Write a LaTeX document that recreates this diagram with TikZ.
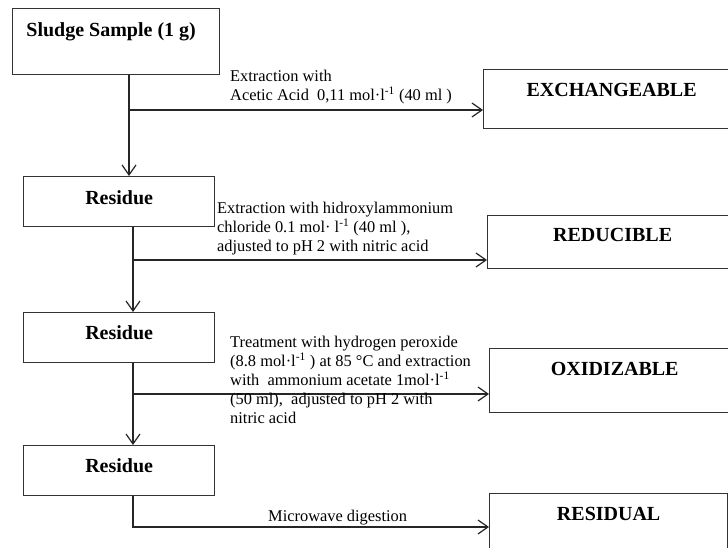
\documentclass[tikz,border=0pt]{standalone}
\usepackage{fontspec}
\setmainfont{Liberation Serif}
\usetikzlibrary{arrows.meta}
\begin{document}
\begin{tikzpicture}[x=1pt,y=-1pt,
  box/.style={draw=black!80, line width=1.3pt, inner sep=0pt, anchor=north west,
    font=\fontsize{20}{22}\selectfont\bfseries},
  lbl/.style={inner sep=0pt, anchor=north west, align=left, font=\fontsize{16.4}{19}\selectfont},
  arr/.style={draw=black!85, line width=1.2pt, -{Straight Barb[length=10pt,width=14pt,line width=1.2pt]}}]
\useasboundingbox (0,0) rectangle (728,548);
\clip (0,0) rectangle (728,548);
% boxes
\node[box, minimum width=207pt, text height=28pt, text depth=38pt] (sludge) at (12,8) {Sludge Sample (1 g)\hspace*{10pt}};
\node[box, minimum width=256pt, text height=27pt, text depth=32pt] (exch) at (483,69) {EXCHANGEABLE};
\node[box, minimum width=191pt, text height=28pt, text depth=22pt] (res1) at (23,176) {Residue};
\node[box, minimum width=250pt, text height=26pt, text depth=27pt] (red) at (487,215) {REDUCIBLE};
\node[box, minimum width=191pt, text height=27pt, text depth=23pt] (res2) at (23,312) {Residue};
\node[box, minimum width=250pt, text height=27pt, text depth=37pt] (oxid) at (489,348) {OXIDIZABLE};
\node[box, minimum width=191pt, text height=27pt, text depth=23pt] (res3) at (23,445) {Residue};
\node[box, minimum width=238pt, text height=27pt, text depth=43pt] (resid) at (489,493) {RESIDUAL};
% junctions
\coordinate (j1) at (129,110);
\coordinate (j2) at (133,260);
\coordinate (j3) at (133,394);
\coordinate (j4) at (133,527);
% connectors
\draw[arr] (j1 |- sludge.south) -- (j1 |- res1.north);
\draw[arr] (j1) -- (j1 -| exch.west);
\draw[arr] (j2 |- res1.south) -- (j2 |- res2.north);
\draw[arr] (j2) -- (j2 -| red.west);
\draw[arr] (j3 |- res2.south) -- (j3 |- res3.north);
\draw[arr] (j3) -- (j3 -| oxid.west);
\draw[arr] (j4 |- res3.south) -- (j4) -- (j4 -| resid.west);
% labels
\node[lbl] (t1) at (230,70) {Extraction with\\Acetic Acid\ \ 0,11 mol·l\textsuperscript{-1} (40 ml )};
\node[lbl] (t2) at (217,202) {Extraction with hidroxylammonium\\chloride 0.1 mol· l\textsuperscript{-1} (40 ml ),\\adjusted to pH 2 with nitric acid};
\node[lbl] (t3) at (230,336) {Treatment with hydrogen peroxide\\(8.8 mol·l\textsuperscript{-1} ) at 85 °C and extraction\\with\ \ ammonium acetate 1mol·l\textsuperscript{-1}\\(50 ml),\ \ adjusted to pH 2 with\\nitric acid};
\node[lbl, anchor=base west] (t4) at (268,521) {Microwave digestion};
\end{tikzpicture}
\end{document}
